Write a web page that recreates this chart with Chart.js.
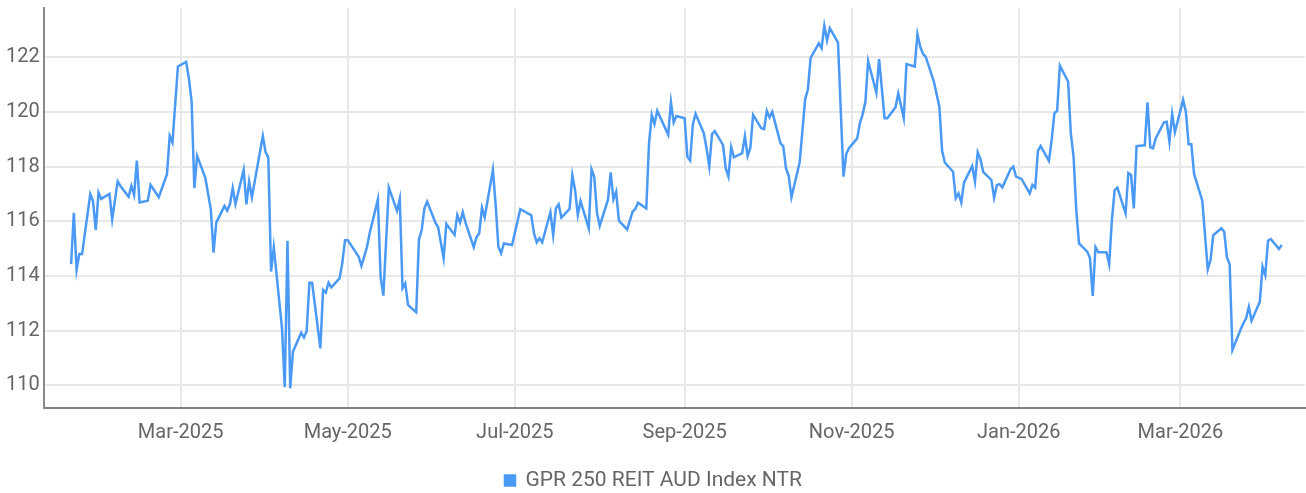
<!DOCTYPE html>
<html>
<head>
<meta charset="utf-8">
<title>GPR 250 REIT AUD Index NTR</title>
<script src="https://cdn.jsdelivr.net/npm/chart.js@4.4.1/dist/chart.umd.min.js"></script>
<style>
  html, body { margin: 0; padding: 0; background: #fff; }
  #wrap { width: 1306px; height: 493px; position: relative; }
</style>
</head>
<body>
<div id="wrap"><canvas id="chart"></canvas></div>
<script>
// Series name
const seriesLabel = 'GPR 250 REIT AUD Index NTR';

// Trading dates
const dates = [
  '2025-01-20','2025-01-21','2025-01-22','2025-01-23','2025-01-24','2025-01-27','2025-01-28','2025-01-29','2025-01-30','2025-01-31',
  '2025-02-03','2025-02-04','2025-02-06','2025-02-07','2025-02-10','2025-02-11','2025-02-12','2025-02-13','2025-02-14','2025-02-17',
  '2025-02-18','2025-02-21','2025-02-24','2025-02-25','2025-02-26','2025-02-28','2025-03-03','2025-03-04','2025-03-05','2025-03-06',
  '2025-03-07','2025-03-10','2025-03-12','2025-03-13','2025-03-14','2025-03-17','2025-03-18','2025-03-19','2025-03-20','2025-03-21',
  '2025-03-24','2025-03-25','2025-03-26','2025-03-27','2025-03-31','2025-04-01','2025-04-02','2025-04-03','2025-04-04','2025-04-07',
  '2025-04-08','2025-04-09','2025-04-10','2025-04-11','2025-04-14','2025-04-15','2025-04-16','2025-04-17','2025-04-18','2025-04-21',
  '2025-04-22','2025-04-23','2025-04-24','2025-04-25','2025-04-28','2025-04-29','2025-04-30','2025-05-01','2025-05-05','2025-05-06',
  '2025-05-08','2025-05-09','2025-05-12','2025-05-13','2025-05-14','2025-05-16','2025-05-19','2025-05-20','2025-05-21','2025-05-22',
  '2025-05-23','2025-05-26','2025-05-27','2025-05-28','2025-05-29','2025-05-30','2025-06-02','2025-06-03','2025-06-05','2025-06-06',
  '2025-06-09','2025-06-10','2025-06-11','2025-06-12','2025-06-13','2025-06-16','2025-06-17','2025-06-18','2025-06-19','2025-06-20',
  '2025-06-23','2025-06-24','2025-06-25','2025-06-26','2025-06-27','2025-06-30','2025-07-03','2025-07-07','2025-07-08','2025-07-09',
  '2025-07-10','2025-07-11','2025-07-14','2025-07-15','2025-07-16','2025-07-17','2025-07-18','2025-07-21','2025-07-22','2025-07-23',
  '2025-07-24','2025-07-25','2025-07-28','2025-07-29','2025-07-30','2025-07-31','2025-08-01','2025-08-04','2025-08-05','2025-08-06',
  '2025-08-07','2025-08-08','2025-08-11','2025-08-13','2025-08-14','2025-08-15','2025-08-18','2025-08-19','2025-08-20','2025-08-21',
  '2025-08-22','2025-08-26','2025-08-27','2025-08-28','2025-08-29','2025-09-01','2025-09-02','2025-09-03','2025-09-04','2025-09-05',
  '2025-09-08','2025-09-09','2025-09-10','2025-09-11','2025-09-12','2025-09-15','2025-09-16','2025-09-17','2025-09-18','2025-09-19',
  '2025-09-22','2025-09-23','2025-09-24','2025-09-25','2025-09-26','2025-09-29','2025-09-30','2025-10-01','2025-10-02','2025-10-03',
  '2025-10-06','2025-10-07','2025-10-08','2025-10-09','2025-10-10','2025-10-13','2025-10-14','2025-10-15','2025-10-16','2025-10-17',
  '2025-10-20','2025-10-21','2025-10-22','2025-10-23','2025-10-24','2025-10-27','2025-10-28','2025-10-29','2025-10-30','2025-10-31',
  '2025-11-03','2025-11-04','2025-11-05','2025-11-06','2025-11-07','2025-11-10','2025-11-11','2025-11-13','2025-11-14','2025-11-17',
  '2025-11-18','2025-11-20','2025-11-21','2025-11-24','2025-11-25','2025-11-26','2025-11-27','2025-11-28','2025-12-01','2025-12-03',
  '2025-12-04','2025-12-05','2025-12-08','2025-12-09','2025-12-10','2025-12-11','2025-12-12','2025-12-15','2025-12-16','2025-12-17',
  '2025-12-18','2025-12-19','2025-12-22','2025-12-23','2025-12-24','2025-12-25','2025-12-26','2025-12-29','2025-12-30','2025-12-31',
  '2026-01-02','2026-01-05','2026-01-06','2026-01-07','2026-01-08','2026-01-09','2026-01-12','2026-01-13','2026-01-14','2026-01-15',
  '2026-01-16','2026-01-19','2026-01-20','2026-01-21','2026-01-22','2026-01-23','2026-01-26','2026-01-27','2026-01-28','2026-01-29',
  '2026-01-30','2026-02-02','2026-02-03','2026-02-04','2026-02-05','2026-02-06','2026-02-09','2026-02-10','2026-02-11','2026-02-12',
  '2026-02-13','2026-02-16','2026-02-17','2026-02-18','2026-02-19','2026-02-20','2026-02-23','2026-02-24','2026-02-25','2026-02-26',
  '2026-02-27','2026-03-02','2026-03-03','2026-03-04','2026-03-05','2026-03-06','2026-03-09','2026-03-11','2026-03-12','2026-03-13',
  '2026-03-16','2026-03-17','2026-03-18','2026-03-19','2026-03-20','2026-03-23','2026-03-24','2026-03-25','2026-03-26','2026-03-27',
  '2026-03-30','2026-03-31','2026-04-01','2026-04-02','2026-04-03','2026-04-06','2026-04-07'
];

// Index values (one per date above)
const values = [
  114.43,116.31,114.22,114.80,114.80,116.99,116.74,115.68,117.05,116.82,
  117.00,116.07,117.46,117.29,116.90,117.29,116.96,118.22,116.69,116.75,
  117.33,116.88,117.72,119.12,118.88,121.66,121.83,121.23,120.38,117.21,
  118.39,117.59,116.44,114.85,115.95,116.56,116.39,116.63,117.21,116.63,
  117.88,116.62,117.46,116.88,119.12,118.53,118.33,114.16,115.05,112.08,
  109.93,115.29,109.89,111.23,111.92,111.75,111.98,113.75,113.75,111.35,
  113.49,113.39,113.75,113.58,113.91,114.46,115.31,115.31,114.70,114.37,
  115.05,115.56,116.80,113.97,113.28,117.23,116.38,116.82,113.55,113.73,
  112.94,112.67,115.34,115.68,116.47,116.72,115.95,115.78,114.65,115.90,
  115.50,116.23,115.95,116.33,115.95,115.05,115.41,115.56,116.49,116.15,
  117.88,116.60,115.07,114.83,115.19,115.13,116.44,116.22,115.56,115.23,
  115.38,115.23,116.33,115.50,116.47,116.62,116.13,116.45,117.69,117.14,
  116.23,116.74,115.74,117.90,117.63,116.31,115.83,116.78,117.79,116.80,
  117.08,116.02,115.70,116.35,116.45,116.68,116.47,118.85,119.89,119.56,
  120.04,119.16,120.36,119.61,119.85,119.77,118.36,118.22,119.55,119.93,
  119.22,118.67,118.00,119.19,119.30,118.79,117.94,117.63,118.71,118.34,
  118.49,119.12,118.39,118.69,119.89,119.40,119.37,120.04,119.80,120.00,
  118.85,118.75,117.94,117.66,116.88,118.16,119.30,120.47,120.82,121.98,
  122.51,122.33,123.15,122.61,123.06,122.53,120.07,117.63,118.46,118.67,
  119.03,119.59,119.91,120.38,121.86,120.70,121.93,119.77,119.77,120.17,
  120.68,119.77,121.75,121.66,122.84,122.39,122.12,122.02,121.11,120.19,
  118.58,118.15,117.81,116.84,117.02,116.69,117.41,118.02,117.45,118.52,
  118.27,117.81,117.51,116.86,117.33,117.36,117.24,117.90,118.00,117.63,
  117.55,117.02,117.33,117.23,118.58,118.75,118.21,118.97,119.95,120.04,
  121.69,121.11,119.22,118.36,116.39,115.19,114.89,114.65,113.27,115.05,
  114.87,114.87,114.43,116.05,117.14,117.23,116.29,117.76,117.69,116.47,
  118.75,118.78,120.35,118.71,118.67,119.03,119.62,119.64,118.91,119.93,
  119.26,120.44,120.01,118.82,118.82,117.73,116.75,114.24,114.58,115.49,
  115.74,115.62,114.68,114.43,111.29,112.04,112.27,112.45,112.87,112.36,
  113.06,114.34,114.03,115.29,115.35,114.99,115.13
];

// Axis ticks
const xTickDates = ['2025-03-01','2025-05-01','2025-07-01','2025-09-01','2025-11-01','2026-01-01','2026-03-01'];
const xTickLabels = ['Mar-2025','May-2025','Jul-2025','Sep-2025','Nov-2025','Jan-2026','Mar-2026'];
const yTicks = [110, 112, 114, 116, 118, 120, 122];

// days since 2025-01-01
const base = Date.UTC(2025, 0, 1);
function toDay(s) {
    const p = s.split('-').map(Number);
    return (Date.UTC(p[0], p[1] - 1, p[2]) - base) / 86400000;
}
const xTickDays = xTickDates.map(toDay);

const lineColor = '#4a9af5';
const textColor = '#666666';
const gridColor = '#e8e8e8';
const font = { family: 'Roboto, "Liberation Sans", sans-serif', size: 20 };

const ctx = document.getElementById('chart').getContext('2d');
const chart = new Chart(ctx, {
    type: 'line',
    data: {
        datasets: [{
            label: seriesLabel,
            data: dates.map((d, i) => ({ x: toDay(d), y: values[i] })),
            borderColor: lineColor,
            backgroundColor: lineColor,
            borderWidth: 2.5,
            pointRadius: 0,
            tension: 0,
            fill: false,
        }]
    },
    options: {
        responsive: true,
        maintainAspectRatio: false,
        animation: false,
        layout: { padding: { left: 2, right: 1, top: 8, bottom: -8 } },
        plugins: {
            legend: {
                position: 'bottom',
                labels: {
                    color: textColor,
                    font: { family: font.family, size: 21 },
                    boxWidth: 10,
                    boxHeight: 10,
                    padding: 12,
                }
            },
            tooltip: { enabled: false },
        },
        scales: {
            x: {
                type: 'linear',
                min: 9,
                max: 469.5,
                afterBuildTicks: scale => {
                    scale.ticks = xTickDays.map(v => ({ value: v }));
                },
                ticks: {
                    color: textColor,
                    font: font,
                    padding: 13,
                    maxRotation: 0,
                    callback: value => xTickLabels[xTickDays.indexOf(value)],
                },
                grid: { color: gridColor, lineWidth: 2, drawTicks: false },
                border: { color: '#808080', width: 2 },
            },
            y: {
                min: 109.17,
                max: 123.8,
                afterBuildTicks: scale => {
                    scale.ticks = yTicks.map(v => ({ value: v }));
                },
                afterFit: scale => {
                    scale.paddingTop = 0;
                },
                ticks: { color: textColor, font: font, padding: 4 },
                grid: { color: gridColor, lineWidth: 2, drawTicks: false },
                border: { color: '#8a8a8a', width: 2 },
            }
        }
    }
});
</script>
</body>
</html>
